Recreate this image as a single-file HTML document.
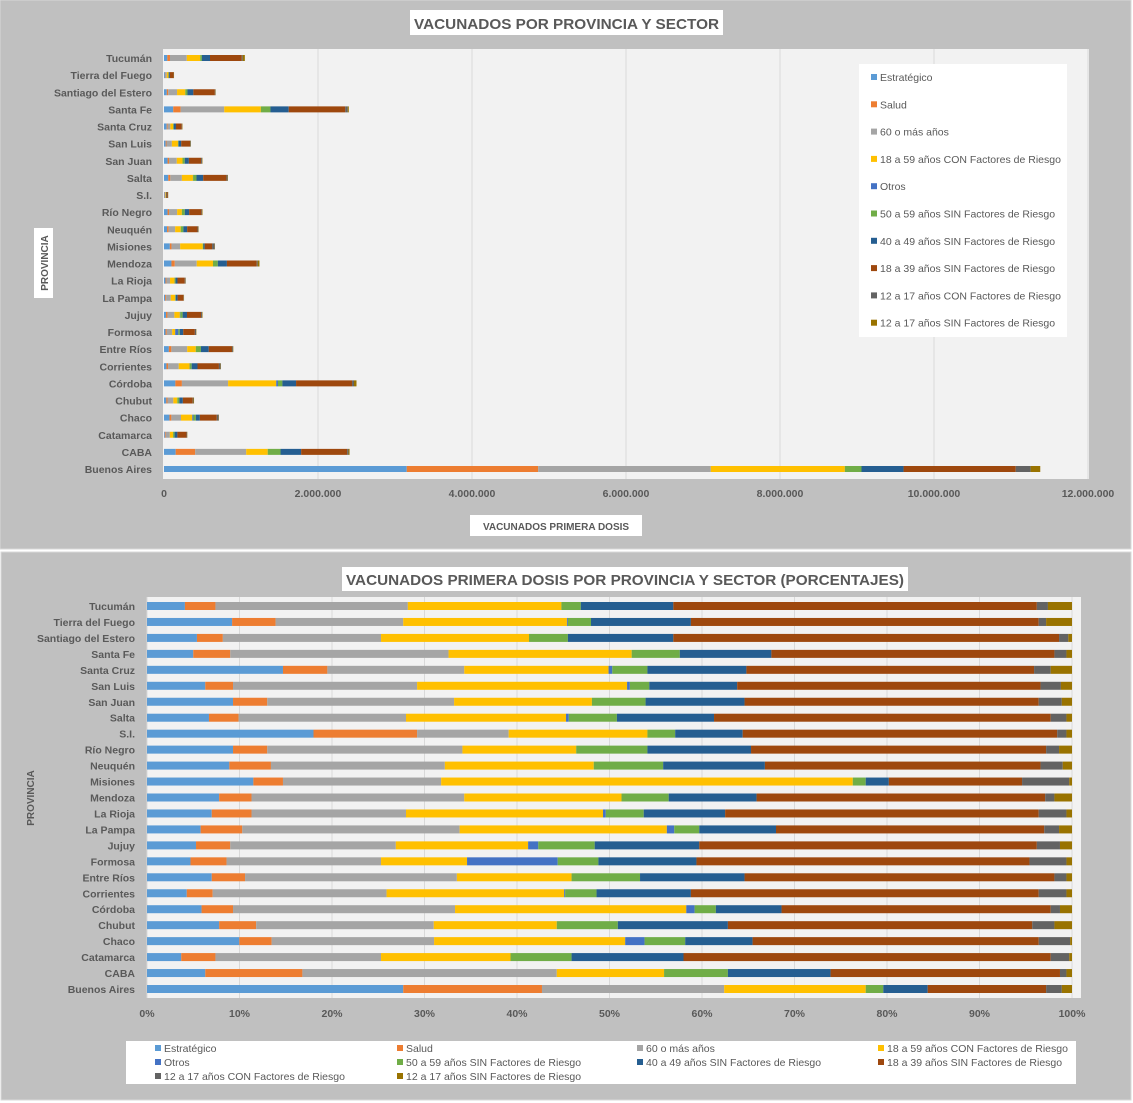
<!DOCTYPE html>
<html><head><meta charset="utf-8">
<style>
body{margin:0;width:1133px;height:1103px;background:#fff;font-family:"Liberation Sans",sans-serif;overflow:hidden}
svg{position:absolute;left:0;top:0}
text{font-family:"Liberation Sans",sans-serif;fill:#595959}
</style></head>
<body>
<svg id="c" width="1133" height="1103"></svg>
<script>
const provinces=["Tucumán","Tierra del Fuego","Santiago del Estero","Santa Fe","Santa Cruz","San Luis","San Juan","Salta","S.I.","Río Negro","Neuquén","Misiones","Mendoza","La Rioja","La Pampa","Jujuy","Formosa","Entre Ríos","Corrientes","Córdoba","Chubut","Chaco","Catamarca","CABA","Buenos Aires"];
const seriesNames=["Estratégico","Salud","60 o más años","18 a 59 años CON Factores de Riesgo","Otros","50 a 59 años SIN Factores de Riesgo","40 a 49 años SIN Factores de Riesgo","18 a 39 años SIN Factores de Riesgo","12 a 17 años CON Factores de Riesgo","12 a 17 años SIN Factores de Riesgo"];
const totals=[1.05,0.13,0.67,2.40,0.24,0.35,0.50,0.83,0.05,0.50,0.45,0.66,1.24,0.28,0.26,0.50,0.42,0.90,0.74,2.50,0.39,0.71,0.30,2.41,11.38]; // millones
const pctEstrategico=[4.1,9.2,5.4,5.0,14.7,6.3,9.3,6.7,18.0,9.3,8.9,11.5,7.8,7.0,5.8,5.3,4.7,7.0,4.3,5.9,7.8,10.0,3.7,6.3,27.7];
const pctSalud=[3.3,4.7,2.8,4.0,4.8,3.0,3.7,3.2,11.2,3.7,4.5,3.2,3.5,4.3,4.5,3.7,3.9,3.6,2.8,3.4,4.0,3.5,3.7,10.5,15.0];
const pct60=[20.8,13.8,17.1,23.6,14.8,19.9,20.2,18.1,9.9,21.1,18.8,17.1,23.0,16.7,23.5,17.9,16.7,22.9,18.8,24.0,19.2,17.6,17.9,27.5,19.7];
const pctCon1859=[16.6,17.7,16.0,19.8,15.6,22.7,14.9,17.3,15.0,12.3,16.1,44.5,17.0,21.3,22.4,14.3,9.3,12.4,19.2,25.0,13.3,20.7,14.0,11.6,15.3];
const pctOtros=[0,0.1,0,0,0.4,0.3,0,0.3,0,0,0,0,0,0.3,0.8,1.1,9.8,0,0.1,0.9,0,2.1,0,0,0];
const pctSin5059=[2.1,2.5,4.2,5.2,3.8,2.1,5.8,5.2,3.0,7.7,7.5,1.4,5.1,4.1,2.7,6.1,4.4,7.4,3.4,2.3,6.6,4.4,6.6,6.9,1.9];
const pctSin4049=[10.0,10.8,11.4,9.9,10.7,9.5,10.7,10.5,7.3,11.2,11.0,2.5,9.5,8.8,8.3,11.3,10.6,11.3,10.2,7.1,11.9,7.3,12.1,11.1,4.8];
const pctSin1839=[39.3,37.6,41.7,30.6,31.1,32.8,31.8,36.4,34.0,31.9,29.8,14.4,31.2,33.9,29.0,36.5,36.0,33.5,37.6,29.1,32.9,31.0,39.7,24.8,12.8];
const pctCon1217=[1.2,0.8,1.0,1.3,1.8,2.2,2.5,1.7,1.0,1.4,2.4,5.1,1.0,3.0,1.6,2.5,4.0,1.3,3.0,1.0,2.4,3.4,2.0,0.7,1.7];
const pctSin1217=[2.6,2.8,0.4,0.6,2.3,1.2,1.1,0.6,0.6,1.4,1.0,0.3,1.9,0.6,1.4,1.3,0.6,0.6,0.6,1.3,1.9,0.2,0.3,0.6,1.1];
const xTicksTop=["0","2.000.000","4.000.000","6.000.000","8.000.000","10.000.000","12.000.000"];
const xTicksBottom=["0%","10%","20%","30%","40%","50%","60%","70%","80%","90%","100%"];

const colors=["#5b9bd5","#ed7d31","#a5a5a5","#ffc000","#4472c4","#70ad47","#255e91","#9e480e","#636363","#997300"];
const series=[pctEstrategico,pctSalud,pct60,pctCon1859,pctOtros,pctSin5059,pctSin4049,pctSin1839,pctCon1217,pctSin1217];
const svg=document.getElementById('c');const NS='http://www.w3.org/2000/svg';
function mk(tag,attrs,parent){const e=document.createElementNS(NS,tag);for(const k in attrs)e.setAttribute(k,attrs[k]);(parent||svg).appendChild(e);return e;}
function txt(x,y,s,size,anchor,weight,fill){const t=mk('text',{x:x,y:y,'font-size':size,'text-anchor':anchor||'start','font-weight':weight||'normal'});if(fill)t.setAttribute('fill',fill);t.textContent=s;return t;}

// ===== TOP PANEL =====
let e=mk('rect',{x:0,y:0,width:1131,height:549,fill:'#c0c0c0',stroke:'#d9d9d9'});


e=mk('rect',{x:163,y:49,width:926,height:430,fill:'#f2f2f2'});


const tx0=164,tScale=154/2;
function xTop(v){return tx0+v*tScale;}
const tyTop=58,tyStep=(469-58)/24;
function yTop(i){return tyTop+i*tyStep;}
xTicksTop.forEach((lab,i)=>{
  const x=xTop(i*2);
  if(i>0){const g=mk('line',{x1:x,y1:49,x2:x,y2:479,stroke:'#d9d9d9','stroke-width':1});
  
  }
  const t=txt(x,497,lab,10.5,'middle','bold');
  
  
});
provinces.forEach((p,i)=>{
  const y=yTop(i);
  const t=txt(152,y+4,p,10.5,'end','bold');
  
  
  let acc=0;
  series.forEach((s,k)=>{
    const v=totals[i]*s[i]/100;
    if(v<=0)return;
    const r=mk('rect',{x:xTop(acc),y:y-3,width:Math.max(xTop(acc+v)-xTop(acc),0.3),height:6,fill:colors[k]});
    
    
    acc+=v;
  });
});
e=mk('rect',{x:410,y:10,width:313,height:25,fill:'#fff'});


e=txt(414,29,'VACUNADOS POR PROVINCIA Y SECTOR',15,'start','bold','#404040');
e.setAttribute('textLength','305');
e.setAttribute('lengthAdjust','spacingAndGlyphs');


e=mk('rect',{x:470,y:515,width:172,height:21,fill:'#fff'});


e=txt(556,530,'VACUNADOS PRIMERA  DOSIS',10,'middle','bold','#404040');


e=mk('rect',{x:34,y:228,width:19,height:70,fill:'#fff'});


e=txt(0,0,'PROVINCIA',10,'middle','bold','#404040');
e.setAttribute('transform','translate(48,263) rotate(-90)');


e=mk('rect',{x:859,y:64,width:208,height:273,fill:'#fff'});


seriesNames.forEach((n,k)=>{
  const y=77+k*27.3;
  const r=mk('rect',{x:871,y:y-3,width:6,height:6,fill:colors[k]});
  
  
  const t=txt(880,y+4,n,10.5,'start');
  
  
});

// ===== BOTTOM PANEL =====
e=mk('rect',{x:1,y:552,width:1130,height:548,fill:'#c0c0c0',stroke:'#d9d9d9'});


e=mk('rect',{x:147,y:597,width:934,height:401,fill:'#f2f2f2'});


const bx0=147,bx1=1072;
function xBot(p){return bx0+p/100*(bx1-bx0);}
const byTop=606,byStep=(989-606)/24;
function yBot(i){return byTop+i*byStep;}
xTicksBottom.forEach((lab,i)=>{
  const x=xBot(i*10);
  const g=mk('line',{x1:x,y1:597,x2:x,y2:998,stroke:'#d9d9d9','stroke-width':1});
  
  
  const t=txt(x,1017,lab,10.5,'middle','bold');
  
  
});
provinces.forEach((p,i)=>{
  const y=yBot(i);
  const t=txt(135,y+4,p,10.5,'end','bold');
  
  
  let sum=0;series.forEach(s=>sum+=s[i]);
  let acc=0;
  series.forEach((s,k)=>{
    const v=s[i]/sum*100;
    if(v<=0)return;
    const r=mk('rect',{x:xBot(acc),y:y-4,width:Math.max(xBot(acc+v)-xBot(acc),0.3),height:8,fill:colors[k]});
    
    
    acc+=v;
  });
});
e=mk('rect',{x:342,y:567,width:566,height:24,fill:'#fff'});


e=txt(346,585,'VACUNADOS PRIMERA DOSIS POR PROVINCIA Y SECTOR (PORCENTAJES)',15,'start','bold','#404040');
e.setAttribute('textLength','558');
e.setAttribute('lengthAdjust','spacingAndGlyphs');


e=txt(0,0,'PROVINCIA',10,'middle','bold','#404040');
e.setAttribute('transform','translate(34,798) rotate(-90)');


e=mk('rect',{x:126,y:1041,width:950,height:43,fill:'#fff'});


const legCols=[163,405,645,886];
seriesNames.forEach((n,k)=>{
  const col=k%4,row=Math.floor(k/4);
  const x=legCols[col],y=1048+row*14;
  const r=mk('rect',{x:x-8,y:y-3,width:6,height:6,fill:colors[k]});
  
  
  const t=txt(x+1,y+4,n,10.5,'start');
  
  
});
</script>
</body></html>
